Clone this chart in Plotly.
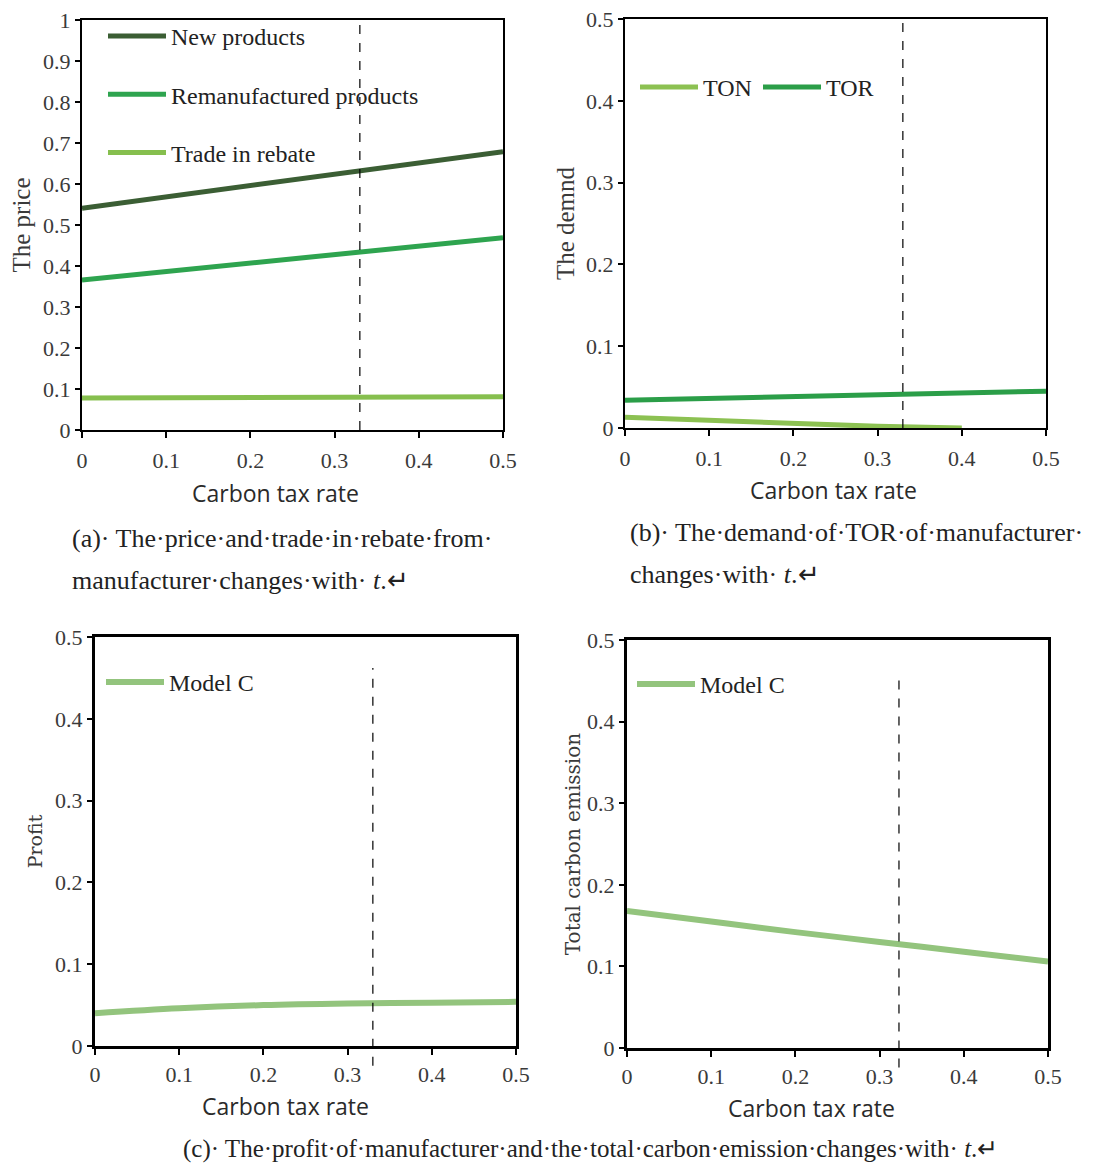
import plotly.graph_objects as go

# ---------------- data ----------------
t_vals = [0, 0.1, 0.2, 0.3, 0.4, 0.5]

price_new = [0.541, 0.568, 0.595, 0.623, 0.651, 0.679]
price_reman = [0.366, 0.386, 0.407, 0.427, 0.448, 0.469]
trade_rebate = [0.078, 0.079, 0.079, 0.080, 0.080, 0.081]

t_ton = [0, 0.1, 0.2, 0.3, 0.4]
demand_ton = [0.013, 0.009, 0.005, 0.002, 0.0]
demand_tor = [0.034, 0.036, 0.038, 0.040, 0.043, 0.045]

profit_c = [0.040, 0.046, 0.050, 0.052, 0.053, 0.054]
emission_c = [0.168, 0.155, 0.142, 0.130, 0.118, 0.106]

threshold_t = [0.33, 0.33, 0.33, 0.323]

x_ticks = [0, 0.1, 0.2, 0.3, 0.4, 0.5]
x_ticklabels = ["0", "0.1", "0.2", "0.3", "0.4", "0.5"]
y_ticks_a = [0, 0.1, 0.2, 0.3, 0.4, 0.5, 0.6, 0.7, 0.8, 0.9, 1]
y_ticklabels_a = ["0", "0.1", "0.2", "0.3", "0.4", "0.5", "0.6", "0.7", "0.8", "0.9", "1"]
y_ticks_b = [0, 0.1, 0.2, 0.3, 0.4, 0.5]
y_ticklabels_b = ["0", "0.1", "0.2", "0.3", "0.4", "0.5"]

# ---------------- style ----------------
SERIF = "Liberation Serif"
SANS = "Open Sans"
C_NEW = "#3b5e34"
C_REMAN = "#2ea44f"
C_REBATE = "#86bf4e"
C_TON = "#8cc152"
C_TOR = "#2b9e48"
C_MODEL = "#93c47d"

OFF = 8                      # page body margin
W, H = 1100 - 2 * OFF, 1172 - 2 * OFF


def px_x(p):
    return (p - OFF) / W


def px_y(p):
    return 1 - (p - OFF) / H


# plot-area domains (paper fractions, from pixel positions)
dom = {
    1: dict(x=[px_x(82), px_x(503)], y=[px_y(430), px_y(20)], yr=[0, 1]),
    2: dict(x=[px_x(625), px_x(1046)], y=[px_y(428), px_y(19)], yr=[0, 0.5]),
    3: dict(x=[px_x(95), px_x(516)], y=[px_y(1046), px_y(637)], yr=[0, 0.5]),
    4: dict(x=[px_x(627), px_x(1048)], y=[px_y(1048), px_y(640)], yr=[0, 0.5]),
}

fig = go.Figure()

# panel (a)
fig.add_trace(go.Scatter(x=t_vals, y=price_new, mode="lines", name="New products",
                         line=dict(color=C_NEW, width=5), xaxis="x", yaxis="y",
                         legend="legend", legendgroup="a1"))
fig.add_trace(go.Scatter(x=t_vals, y=price_reman, mode="lines", name="Remanufactured products",
                         line=dict(color=C_REMAN, width=5), xaxis="x", yaxis="y",
                         legend="legend", legendgroup="a2"))
fig.add_trace(go.Scatter(x=t_vals, y=trade_rebate, mode="lines", name="Trade in rebate",
                         line=dict(color=C_REBATE, width=5), xaxis="x", yaxis="y",
                         legend="legend", legendgroup="a3"))
# panel (b)
fig.add_trace(go.Scatter(x=t_ton, y=demand_ton, mode="lines", name="TON",
                         line=dict(color=C_TON, width=5), xaxis="x2", yaxis="y2",
                         legend="legend2"))
fig.add_trace(go.Scatter(x=t_vals, y=demand_tor, mode="lines", name="TOR",
                         line=dict(color=C_TOR, width=5), xaxis="x2", yaxis="y2",
                         legend="legend2"))
# panel (c) left / right
fig.add_trace(go.Scatter(x=t_vals, y=profit_c, mode="lines", name="Model C",
                         line=dict(color=C_MODEL, width=6, shape="spline"),
                         xaxis="x3", yaxis="y3", legend="legend3"))
fig.add_trace(go.Scatter(x=t_vals, y=emission_c, mode="lines", name="Model C",
                         line=dict(color=C_MODEL, width=6, shape="spline"),
                         xaxis="x4", yaxis="y4", legend="legend4"))

tickfont = dict(family=SERIF, size=22, color="#3a3a3a")

ytitles = {1: "The price", 2: "The demnd", 3: "Profit", 4: "Total carbon emission"}
yfonts = {
    1: dict(family=SERIF, size=25, color="#3a3a3a"),
    2: dict(family=SERIF, size=25, color="#3a3a3a"),
    3: dict(family="DejaVu Serif", size=19, color="#3a3a3a"),
    4: dict(family="DejaVu Serif", size=20, color="#3a3a3a"),
}
ystand = {1: 6, 2: 4, 3: 8, 4: 2}

for i in range(1, 5):
    sfx = "" if i == 1 else str(i)
    d = dom[i]
    top = i <= 2
    fig.layout["xaxis" + sfx] = dict(
        domain=d["x"], anchor="y" + sfx, range=[0, 0.5],
        tickvals=x_ticks, ticktext=x_ticklabels,
        ticks="outside", ticklen=6, tickwidth=1.5, tickcolor="black",
        showline=True, linecolor="black", linewidth=2 if top else 3, mirror=True,
        showgrid=False, zeroline=False,
        tickfont=tickfont, ticklabeloverflow="allow",
        ticklabelstandoff=4 if top else 1,
        automargin=False,
    )
    yt = y_ticks_a if i == 1 else y_ticks_b
    ytl = y_ticklabels_a if i == 1 else y_ticklabels_b
    fig.layout["yaxis" + sfx] = dict(
        domain=d["y"], anchor="x" + sfx, range=d["yr"],
        tickvals=yt, ticktext=ytl,
        ticks="outside", ticklen=5, tickwidth=1.5, tickcolor="black",
        showline=True, linecolor="black", linewidth=2 if top else 3, mirror=True,
        showgrid=False, zeroline=False,
        tickfont=tickfont, ticklabeloverflow="allow",
        title=dict(text=ytitles[i], font=yfonts[i], standoff=ystand[i]),
        automargin=False,
    )


def to_paper_y(panel, v):
    d = dom[panel]
    lo, hi = d["yr"]
    return d["y"][0] + (v - lo) / (hi - lo) * (d["y"][1] - d["y"][0])


# dashed threshold lines
dash_spans = {1: (0, 1), 2: (0, 0.5), 3: (-0.024, 0.462), 4: (-0.024, 0.461)}
shapes = []
for i in range(1, 5):
    sfx = "" if i == 1 else str(i)
    y0, y1 = dash_spans[i]
    shapes.append(dict(type="line", xref="x" + sfx, yref="paper",
                       x0=threshold_t[i - 1], x1=threshold_t[i - 1],
                       y0=to_paper_y(i, y0), y1=to_paper_y(i, y1),
                       line=dict(color="black", width=1.2, dash="dash"), layer="above"))

legfont = dict(family=SERIF, size=24, color="#222222")
fig.update_layout(
    width=W, height=H,
    margin=dict(l=0, r=0, t=0, b=0),
    paper_bgcolor="white", plot_bgcolor="white",
    shapes=shapes,
    legend=dict(x=px_x(103), y=px_y(14), xanchor="left", yanchor="top",
                font=legfont, bgcolor="rgba(0,0,0,0)", tracegroupgap=24,
                itemwidth=58, traceorder="grouped"),
    legend2=dict(x=px_x(635), y=px_y(65), xanchor="left", yanchor="top",
                 orientation="h", font=legfont, bgcolor="rgba(0,0,0,0)",
                 entrywidth=50, entrywidthmode="pixels", itemwidth=58),
    legend3=dict(x=px_x(101), y=px_y(660), xanchor="left", yanchor="top",
                 font=legfont, bgcolor="rgba(0,0,0,0)", itemwidth=58),
    legend4=dict(x=px_x(632), y=px_y(662), xanchor="left", yanchor="top",
                 font=legfont, bgcolor="rgba(0,0,0,0)", itemwidth=58),
    showlegend=True,
)

# x-axis titles (placed as in the reference, slightly left of centre in some panels)
xtitle_font = dict(family=SANS, size=23, color="#2a2a2a")
xtitle_pos = [(275, 493), (833, 490), (285, 1106), (811, 1108)]
for px, py in xtitle_pos:
    fig.add_annotation(x=px_x(px), y=px_y(py), xref="paper", yref="paper",
                       text="Carbon tax rate", showarrow=False,
                       xanchor="center", yanchor="middle", font=xtitle_font)

capfont = dict(family=SERIF, size=26, color="#222222")
captions = [
    (px_x(70), px_y(538), "(a)· The·price·and·trade·in·rebate·from·"),
    (px_x(70), px_y(580), "manufacturer·changes·with· <i>t</i>.↵"),
    (px_x(628), px_y(532), "(b)· The·demand·of·TOR·of·manufacturer·"),
    (px_x(628), px_y(574), "changes·with· <i>t</i>.↵"),
]
for x, y, txt in captions:
    fig.add_annotation(x=x, y=y, xref="paper", yref="paper", text=txt, showarrow=False,
                       xanchor="left", yanchor="middle", font=capfont)
fig.add_annotation(x=px_x(590), y=px_y(1149), xref="paper", yref="paper",
                   text="(c)· The·profit·of·manufacturer·and·the·total·carbon·emission·changes·with· <i>t</i>.↵",
                   showarrow=False, xanchor="center", yanchor="middle",
                   font=dict(family=SERIF, size=25, color="#222222"))

fig.write_html("out.html")
